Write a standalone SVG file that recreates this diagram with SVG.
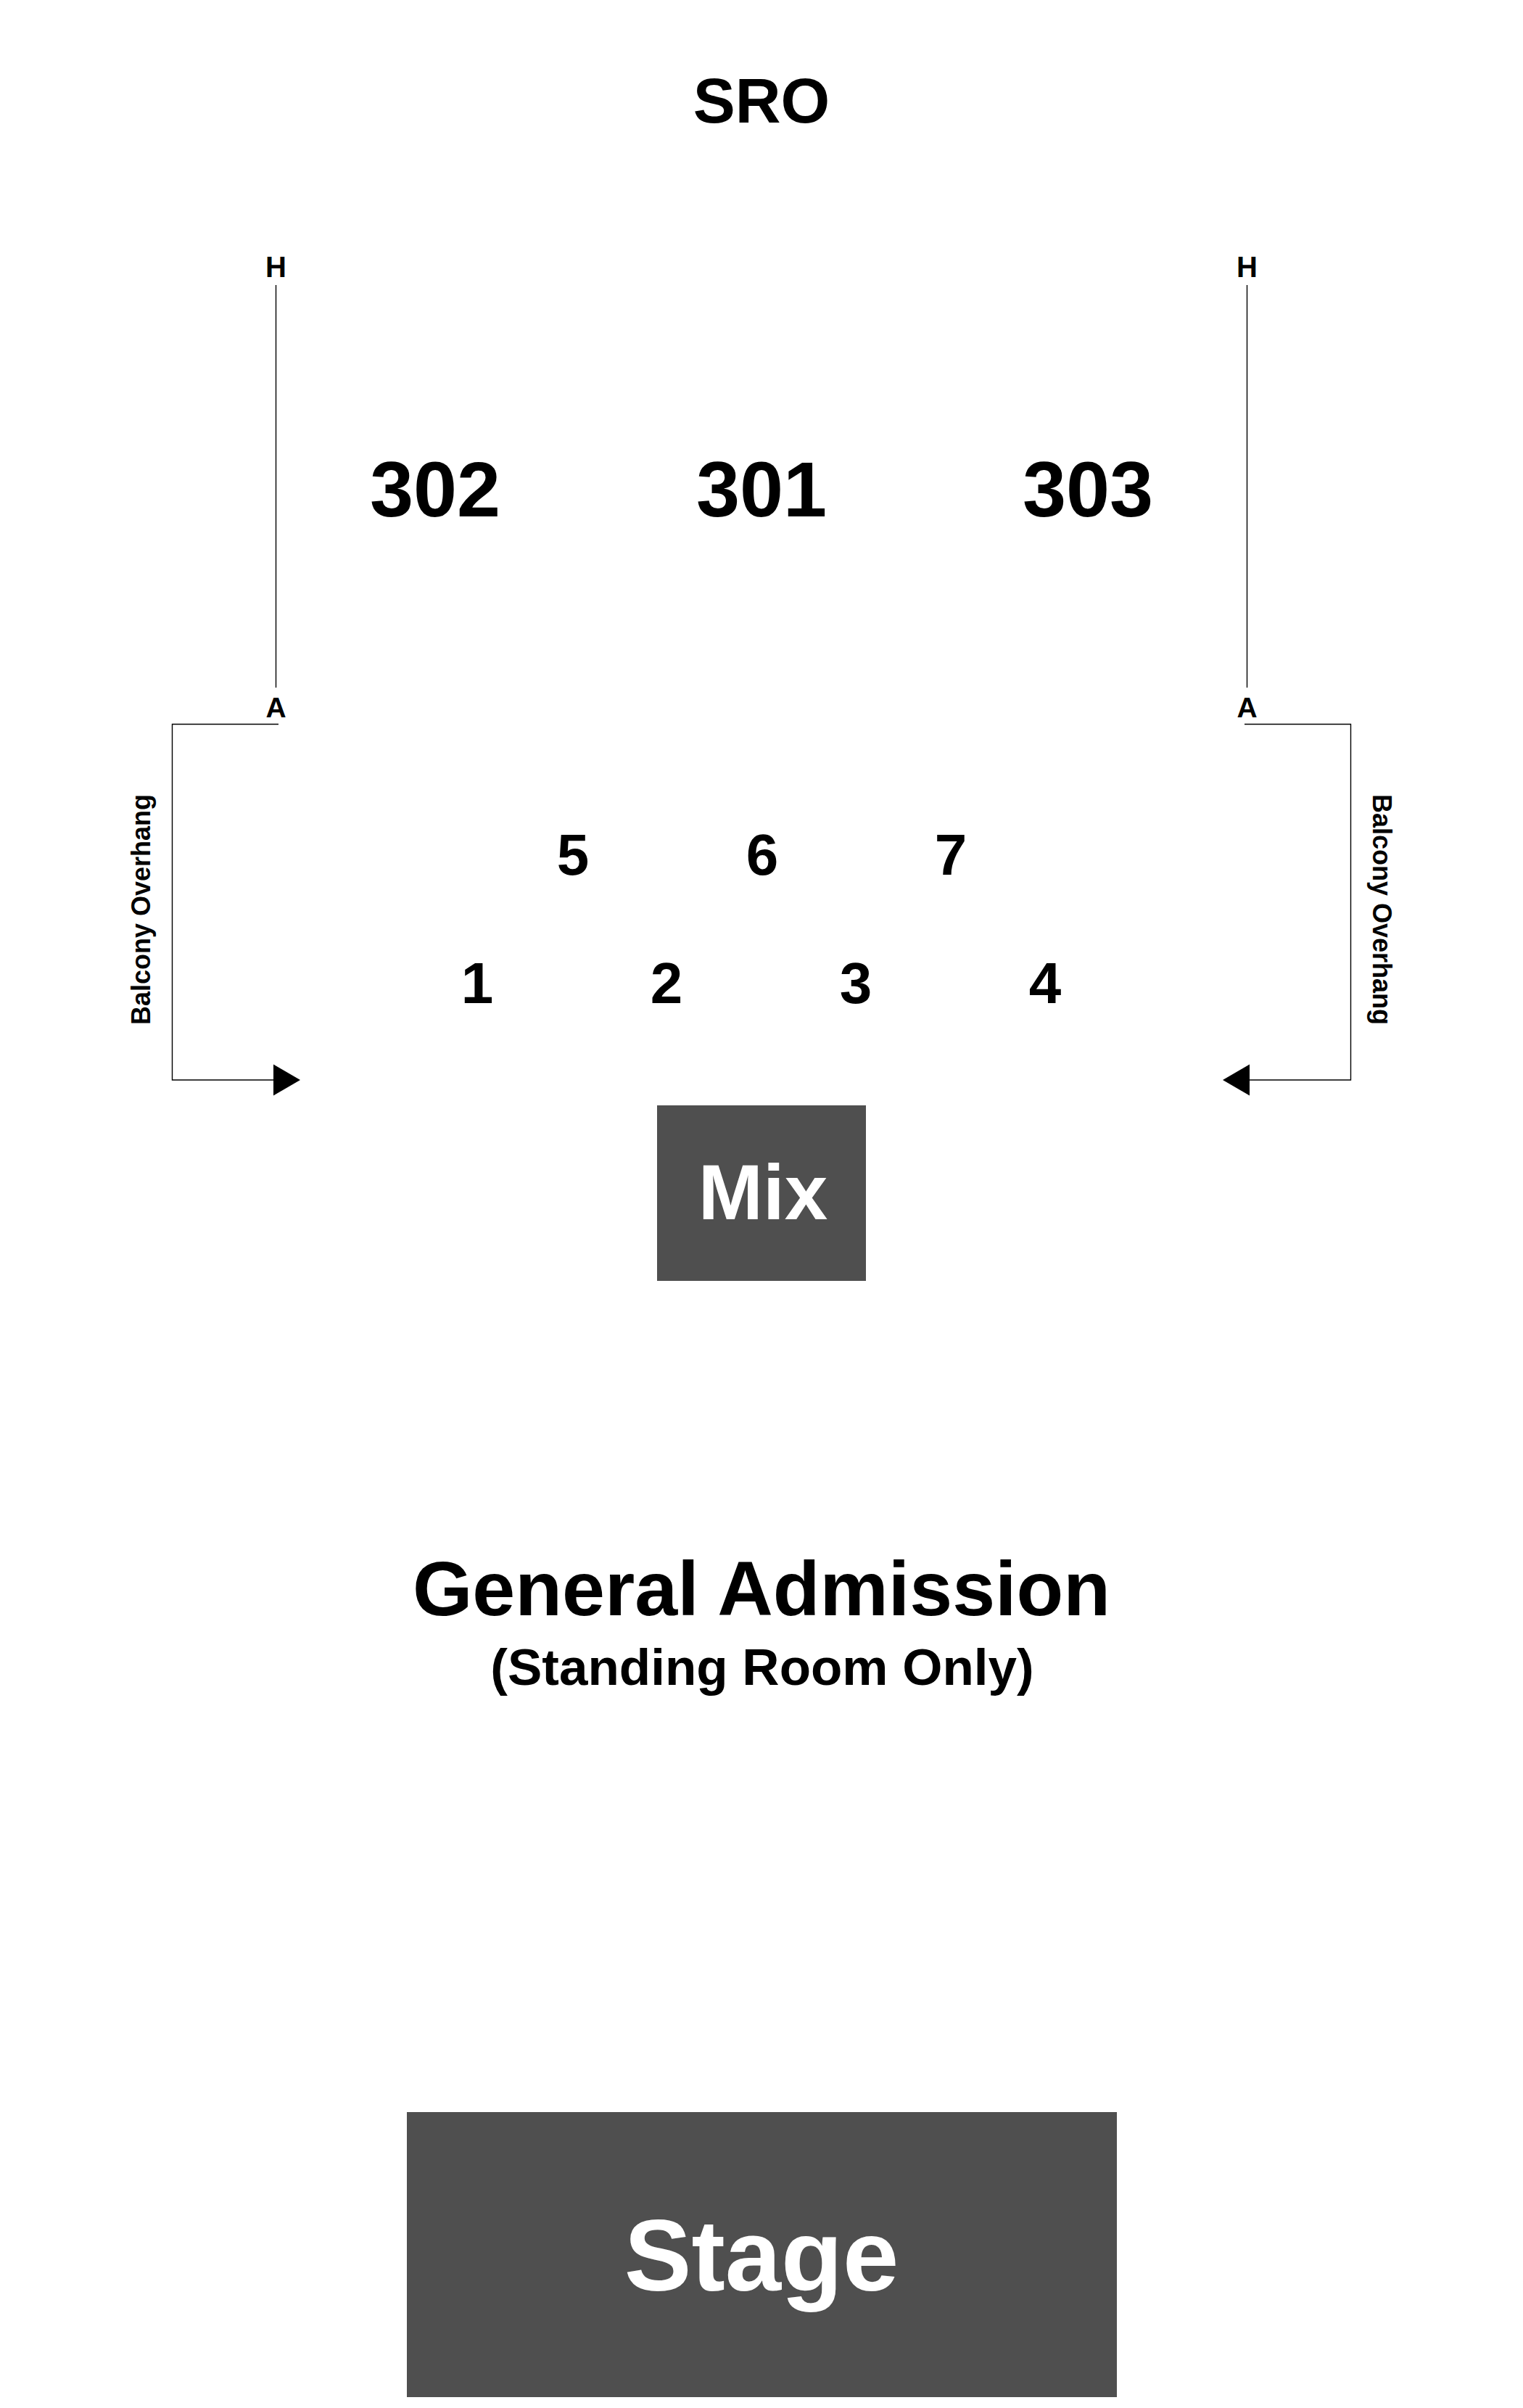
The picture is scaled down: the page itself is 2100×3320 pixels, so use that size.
<svg xmlns="http://www.w3.org/2000/svg" width="2100" height="3320" viewBox="0 0 2100 3320">
  <style>
    text { font-family: "Liberation Sans", Arial, sans-serif; font-weight: bold; text-anchor: middle; fill: #000; }
    .box { fill: #4f4f4f; }
    .light { fill: #fff; }
    .line { fill: none; stroke: #000; stroke-width: 1.4; }
  </style>
  <defs>
    <marker id="tri" markerUnits="userSpaceOnUse" markerWidth="38" markerHeight="44" refX="0" refY="21.5" orient="auto" overflow="visible">
      <path d="M0,0 L37,21.5 L0,43 Z" fill="#000"/>
    </marker>
  </defs>
  <rect width="2100" height="3320" fill="#fff"/>

  <g id="connectors">
    <line class="line" x1="380.5" y1="393" x2="380.5" y2="948"/>
    <line class="line" x1="1719.5" y1="393" x2="1719.5" y2="948"/>
    <polyline class="line" points="384,998.5 237.5,998.5 237.5,1489 377,1489" marker-end="url(#tri)"/>
    <polyline class="line" points="1716,998.5 1862.5,998.5 1862.5,1489 1723,1489" marker-end="url(#tri)"/>
  </g>

  <g id="sro"><text x="1050" y="169" font-size="87">SRO</text></g>

  <g id="row-h-left"><text x="380.5" y="382" font-size="40">H</text></g>
  <g id="row-h-right"><text x="1719.5" y="382" font-size="40">H</text></g>
  <g id="row-a-left"><text x="380.5" y="989" font-size="39">A</text></g>
  <g id="row-a-right"><text x="1719.5" y="989" font-size="39">A</text></g>

  <g id="sec-302"><text x="600" y="712" font-size="108">302</text></g>
  <g id="sec-301"><text x="1050" y="712" font-size="108">301</text></g>
  <g id="sec-303"><text x="1500" y="712" font-size="108">303</text></g>

  <g id="balcony-left"><text transform="translate(207,1254) rotate(-90)" x="0" y="0" font-size="36">Balcony Overhang</text></g>
  <g id="balcony-right"><text transform="translate(1893,1254) rotate(90)" x="0" y="0" font-size="36">Balcony Overhang</text></g>

  <g id="box-5"><text x="790" y="1206" font-size="80">5</text></g>
  <g id="box-6"><text x="1051" y="1206" font-size="80">6</text></g>
  <g id="box-7"><text x="1311" y="1206" font-size="80">7</text></g>
  <g id="box-1"><text x="658" y="1383" font-size="80">1</text></g>
  <g id="box-2"><text x="919" y="1383" font-size="80">2</text></g>
  <g id="box-3"><text x="1180" y="1383" font-size="80">3</text></g>
  <g id="box-4"><text x="1441" y="1383" font-size="80">4</text></g>

  <g id="mix">
    <rect class="box" x="906" y="1524" width="288" height="242"/>
    <text class="light" x="1052" y="1681" font-size="107">Mix</text>
  </g>

  <g id="general-admission">
    <text x="1050" y="2227" font-size="106">General Admission</text>
    <text x="1051" y="2323" font-size="71">(Standing Room Only)</text>
  </g>

  <g id="stage">
    <rect class="box" x="561" y="2912" width="979" height="393"/>
    <text class="light" x="1050" y="3158" font-size="139">Stage</text>
  </g>
</svg>
